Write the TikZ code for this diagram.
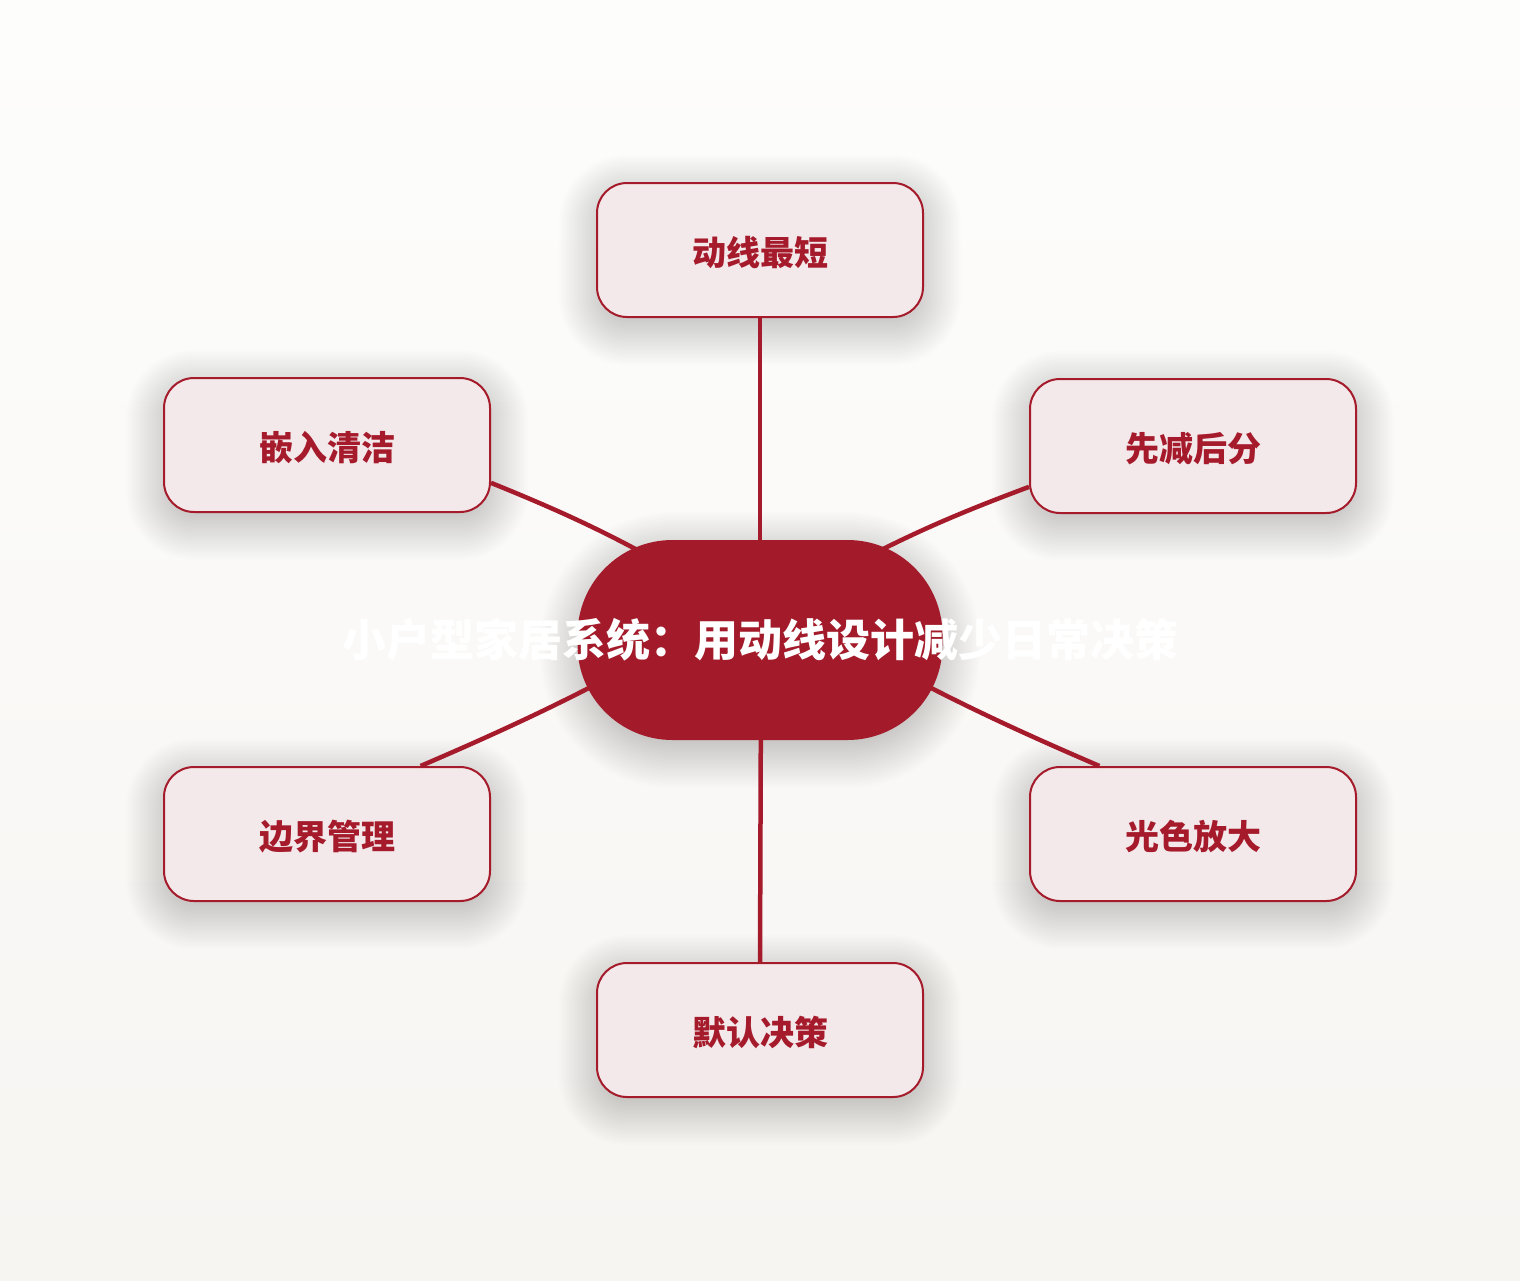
\documentclass[tikz,border=0pt]{standalone}
\usepackage{fontspec}
\newfontfamily\cjk{Noto Sans CJK SC}
\definecolor{crim}{RGB}{165,27,43}
\definecolor{crimfill}{RGB}{163,27,42}
\definecolor{pinkfill}{RGB}{243,232,234}
\definecolor{bgtop}{RGB}{253,253,252}
\definecolor{bgbot}{RGB}{247,245,242}
% soft shadow: centre x, centre y, half width, half height, corner radius
\newcommand\softshadow[5]{%
  \foreach \i in {0,...,24}{%
    \pgfmathsetmacro\ee{-10+2*\i}%
    \pgfmathsetmacro\rr{max(1,#5+\ee)}%
    \pgfmathsetmacro\xa{#1-#3-\ee}%
    \pgfmathsetmacro\xb{#1+#3+\ee}%
    \pgfmathsetmacro\ya{#2-#4-\ee+10}%
    \pgfmathsetmacro\yb{#2+#4+\ee+10}%
    \fill[black,opacity=0.008,rounded corners=\rr pt]
      (\xa,\ya) rectangle (\xb,\yb);
  }}
\begin{document}
\begin{tikzpicture}[x=1pt,y=-1pt,
  leaf/.style={draw=crim, line width=2pt, fill=pinkfill, rounded corners=30pt,
    minimum width=326pt, minimum height=134pt, inner sep=0pt,
    text height=32pt, text depth=2pt,
    font=\cjk\bfseries\fontsize{34}{40}\selectfont, text=crim},
  hub/.style={fill=crimfill, rounded corners=95pt, minimum width=365pt, minimum height=200pt, inner sep=0pt},
  hubtext/.style={text=white, font=\cjk\bfseries\fontsize{44}{50}\selectfont, inner sep=0pt},
  link/.style={draw=crim, line width=4.5pt}]
\useasboundingbox (0,0) rectangle (1520,1280);
\shade[top color=bgtop, bottom color=bgbot] (0,0) rectangle (1520,1280);

% shadows
\softshadow{760}{250}{163}{67}{30}
\softshadow{327}{445}{163}{67}{30}
\softshadow{1193}{446}{163}{67}{30}
\softshadow{327}{834}{163}{67}{30}
\softshadow{1193}{834}{163}{67}{30}
\softshadow{760}{1030}{163}{67}{30}
\softshadow{760}{640}{182}{100}{95}

% leaves
\node[leaf] (top) at (760,250) {动线最短};
\node[leaf] (ul) at (327,445) {嵌入清洁};
\node[leaf] (ur) at (1193,446) {先减后分};
\node[leaf] (ll) at (327,834) {边界管理};
\node[leaf] (lr) at (1193,834) {光色放大};
\node[leaf] (bot) at (760,1030) {默认决策};

% inner ends of connectors (hidden under hub)
\coordinate (cUL) at (700,585);
\coordinate (cUR) at (820,582);
\coordinate (cLL) at (700,628);
\coordinate (cLR) at (820,628);
\coordinate (cT) at (760,600);
\coordinate (cB) at (761,680);

\draw[link] (top.south) -- (cT);
\draw[link] (bot.north) -- (cB);
\draw[link] (ul.-13) to[bend left=4] (cUL);
\draw[link] (ur.-166) to[bend right=4] (cUR);
\draw[link] (ll.36) to[bend right=3] (cLL);
\draw[link] (lr.144) to[bend left=3] (cLR);

% hub
\node[hub] (hub) at (760,640) {};
\node[hubtext] (htext) at (hub.center) {小户型家居系统：用动线设计减少日常决策};
\end{tikzpicture}
\end{document}
